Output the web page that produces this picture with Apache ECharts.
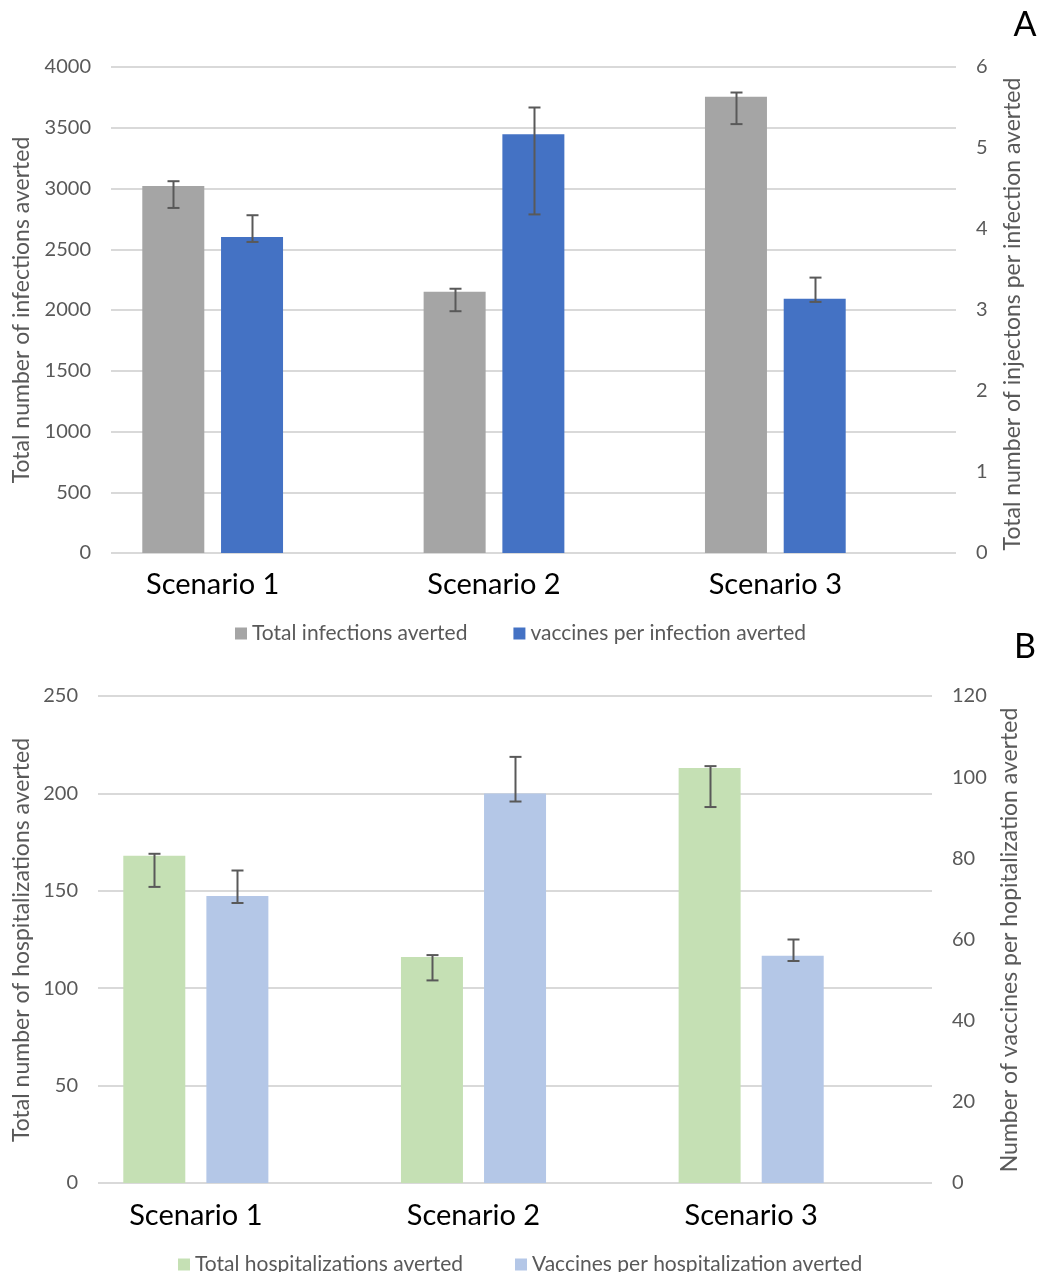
<!DOCTYPE html>
<html>
<head>
<meta charset="utf-8">
<script src="https://cdn.jsdelivr.net/npm/echarts@6/dist/echarts.min.js"></script>
<style>html,body{margin:0;padding:0;background:#fff;}#c{width:1038px;height:1272px;}</style>
</head>
<body>
<div id="c"></div>
<script>
// ---- data ----
var categories = ['Scenario 1', 'Scenario 2', 'Scenario 3'];
var leftTicksA = [0, 500, 1000, 1500, 2000, 2500, 3000, 3500, 4000];
var rightTicksA = [0, 1, 2, 3, 4, 5, 6];
var leftTicksB = [0, 50, 100, 150, 200, 250];
var rightTicksB = [0, 20, 40, 60, 80, 100, 120];

var infectionsAverted = [3020, 2150, 3755];
var infectionsLow = [2840, 1990, 3530];
var infectionsHigh = [3060, 2175, 3790];

var vaccinesPerInfection = [3.90, 5.17, 3.14];
var vaccinesPerInfectionLow = [3.84, 4.18, 3.10];
var vaccinesPerInfectionHigh = [4.17, 5.50, 3.40];

var hospAverted = [168, 116, 213];
var hospLow = [152, 104, 193];
var hospHigh = [169, 117, 214];

var vaccinesPerHosp = [70.7, 96, 56];
var vaccinesPerHospLow = [69, 94, 54.7];
var vaccinesPerHospHigh = [77, 105, 60];

// ---- styles ----
var FONT = 'Lato, "Open Sans", sans-serif';
var GRAY_TXT = '#595959';
var GRID_COL = '#D9D9D9';
var BAR_W = 62;

function errData(lo, hi) {
  return lo.map(function (v, i) { return [i, v, hi[i]]; });
}
function errSeries(xi, yi, lo, hi, side, gapPx) {
  return {
    type: 'custom', xAxisIndex: xi, yAxisIndex: yi, z: 10,
    data: errData(lo, hi),
    renderItem: function (params, api) {
      var off = side * (BAR_W + gapPx) / 2;
      var p1 = api.coord([api.value(0), api.value(1)]);
      var p2 = api.coord([api.value(0), api.value(2)]);
      var x = Math.round(p1[0] + off) + 0.5;
      var cw = 6;
      var st = { stroke: '#595959', lineWidth: 2 };
      return { type: 'group', children: [
        { type: 'line', shape: { x1: x, y1: p1[1], x2: x, y2: p2[1] }, style: st },
        { type: 'line', shape: { x1: x - cw, y1: p1[1], x2: x + cw, y2: p1[1] }, style: st },
        { type: 'line', shape: { x1: x - cw, y1: p2[1], x2: x + cw, y2: p2[1] }, style: st }
      ]};
    }
  };
}
function valueAxis(grid, pos, ticks, show, split) {
  return {
    type: 'value', gridIndex: grid, position: pos, min: ticks[0], max: ticks[ticks.length - 1],
    interval: ticks[1] - ticks[0],
    axisLine: { show: false }, axisTick: { show: false },
    axisLabel: { show: show, color: GRAY_TXT, fontSize: 20, fontFamily: FONT, margin: 20,
      formatter: function (v) { return String(v); } },
    splitLine: { show: split, lineStyle: { color: GRID_COL, width: 2 } }
  };
}
function catAxis(grid, show, margin) {
  return {
    type: 'category', gridIndex: grid, data: categories,
    axisLine: { show: false }, axisTick: { show: false },
    axisLabel: { show: show, color: '#000', fontSize: 29, fontFamily: FONT, margin: margin },
    splitLine: { show: false }
  };
}

var chart = echarts.init(document.getElementById('c'), null, { renderer: 'canvas' });
var legendText = { color: GRAY_TXT, fontSize: 21, fontFamily: FONT };
var option = {
  backgroundColor: '#fff',
  animation: false,
  grid: [
    { left: 111, width: 845, top: 67, height: 486 },
    { left: 72, width: 844, top: 67, height: 486 },
    { left: 98, width: 834, top: 696, height: 487 },
    { left: 57, width: 833, top: 696, height: 487 }
  ],
  xAxis: [catAxis(0, false, 0), catAxis(1, true, 17), catAxis(2, false, 0), catAxis(3, true, 18)],
  yAxis: [
    valueAxis(0, 'left', leftTicksA, true, true),
    valueAxis(0, 'right', rightTicksA, true, false),
    valueAxis(1, 'left', leftTicksA, false, false),
    valueAxis(1, 'right', rightTicksA, false, false),
    valueAxis(2, 'left', leftTicksB, true, true),
    valueAxis(2, 'right', rightTicksB, true, false),
    valueAxis(3, 'left', leftTicksB, false, false),
    valueAxis(3, 'right', rightTicksB, false, false)
  ],
  legend: [
    { left: 230, top: 618, itemWidth: 12, itemHeight: 12, itemGap: 46, icon: 'rect',
      textStyle: legendText,
      data: ['Total infections averted', 'vaccines per infection averted'] },
    { left: 173, top: 1249, itemWidth: 12, itemHeight: 12, itemGap: 52, icon: 'rect',
      textStyle: legendText,
      data: ['Total hospitalizations averted', 'Vaccines per hospitalization averted'] }
  ],
  series: [
    { name: 'Total infections averted', type: 'bar', xAxisIndex: 1, yAxisIndex: 2,
      barWidth: BAR_W, barGap: '27%', itemStyle: { color: '#A5A5A5' }, data: infectionsAverted },
    { name: 'vaccines per infection averted', type: 'bar', xAxisIndex: 1, yAxisIndex: 3,
      barWidth: BAR_W, barGap: '27%', itemStyle: { color: '#4472C4' }, data: vaccinesPerInfection },
    errSeries(1, 2, infectionsLow, infectionsHigh, -1, 17),
    errSeries(1, 3, vaccinesPerInfectionLow, vaccinesPerInfectionHigh, 1, 17),
    { name: 'Total hospitalizations averted', type: 'bar', xAxisIndex: 3, yAxisIndex: 6,
      barWidth: BAR_W, barGap: '34%', itemStyle: { color: '#C5E0B4' }, data: hospAverted },
    { name: 'Vaccines per hospitalization averted', type: 'bar', xAxisIndex: 3, yAxisIndex: 7,
      barWidth: BAR_W, barGap: '34%', itemStyle: { color: '#B4C7E7' }, data: vaccinesPerHosp },
    errSeries(3, 6, hospLow, hospHigh, -1, 21),
    errSeries(3, 7, vaccinesPerHospLow, vaccinesPerHospHigh, 1, 21)
  ],
  graphic: [
    { type: 'text', x: 22, y: 310, rotation: Math.PI / 2,
      style: { text: 'Total number of infections averted', fill: GRAY_TXT, font: '23px ' + FONT, textAlign: 'center', textVerticalAlign: 'middle' } },
    { type: 'text', x: 1013, y: 314, rotation: Math.PI / 2,
      style: { text: 'Total number of injectons per infection averted', fill: GRAY_TXT, font: '23px ' + FONT, textAlign: 'center', textVerticalAlign: 'middle' } },
    { type: 'text', x: 22, y: 940, rotation: Math.PI / 2,
      style: { text: 'Total number of hospitalizations averted', fill: GRAY_TXT, font: '23px ' + FONT, textAlign: 'center', textVerticalAlign: 'middle' } },
    { type: 'text', x: 1010, y: 940, rotation: Math.PI / 2,
      style: { text: 'Number of vaccines per hopitalization averted', fill: GRAY_TXT, font: '23px ' + FONT, textAlign: 'center', textVerticalAlign: 'middle' } },
    { type: 'text', x: 1025, y: 25,
      style: { text: 'A', fill: '#000', font: '34px ' + FONT, textAlign: 'center', textVerticalAlign: 'middle' } },
    { type: 'text', x: 1025, y: 647,
      style: { text: 'B', fill: '#000', font: '34px ' + FONT, textAlign: 'center', textVerticalAlign: 'middle' } }
  ]
};
chart.setOption(option);
</script>
</body>
</html>
